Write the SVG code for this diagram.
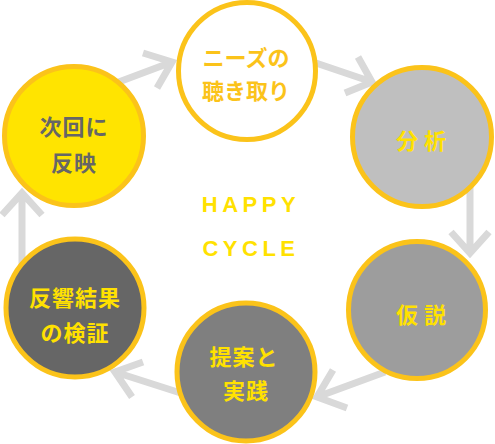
<svg xmlns="http://www.w3.org/2000/svg" width="495" height="444" viewBox="0 0 495 444">
<style>
.ar{fill:none;stroke:#d9d9d9;stroke-width:7;stroke-linejoin:miter;stroke-linecap:butt}
.c{stroke:#fbc31a;stroke-width:5}
.t{font-family:"Noto Sans CJK JP","Noto Sans CJK SC",sans-serif;font-weight:700;font-size:22px;text-anchor:middle}
.e{font-family:"Liberation Sans",Arial,sans-serif;font-weight:700;font-size:22px;fill:#ffe100;letter-spacing:4.5px;text-anchor:middle}
</style>
<rect width="495" height="444" fill="#ffffff"/>
<g id="connectors">
<path class="ar" d="M100,89 L172,62 M143,53 L172,62 L157,88"/>
<path class="ar" d="M310,61 L372,82 M358,57 L372,82 L345,93"/>
<path class="ar" d="M470,180 L470,253 M451,232 L470,253 L489,232"/>
<path class="ar" d="M385,372 L317,397 M333,370 L317,397 L347,408"/>
<path class="ar" d="M190,396 L115,372 M143,362 L115,372 L132,397"/>
<path class="ar" d="M22,268 L22,193 M2,215 L22,193 L42,215"/>
</g>
<g id="n-needs">
<circle class="c" cx="247" cy="71" r="68.5" fill="#ffffff"/>
<text class="t" x="246" y="66" fill="#fbc31a">ニーズの</text>
<text class="t" x="246" y="99" fill="#fbc31a">聴き取り</text>
</g>
<g id="n-analysis">
<circle class="c" cx="422" cy="137" r="69.5" fill="#bfbfbf"/>
<text class="t" x="424" y="149" fill="#ffe100" style="letter-spacing:6px">分析</text>
</g>
<g id="n-hypothesis">
<circle class="c" cx="417" cy="310" r="68.5" fill="#9d9d9d"/>
<text class="t" x="424" y="323" fill="#ffe100" style="letter-spacing:6px">仮説</text>
</g>
<g id="n-practice">
<circle class="c" cx="246" cy="372" r="69" fill="#7f7f7f"/>
<text class="t" x="244" y="365" fill="#ffe100" style="letter-spacing:1px">提案と</text>
<text class="t" x="246" y="399" fill="#ffe100" style="letter-spacing:1px">実践</text>
</g>
<g id="n-verify">
<circle class="c" cx="75" cy="308" r="69" fill="#666666"/>
<text class="t" x="75" y="306" fill="#ffe100" style="letter-spacing:1px">反響結果</text>
<text class="t" x="75" y="341" fill="#ffe100" style="letter-spacing:1px">の検証</text>
</g>
<g id="n-reflect">
<circle class="c" cx="74" cy="136" r="69.5" fill="#ffe400"/>
<text class="t" x="74" y="135" fill="#666666" style="letter-spacing:1px">次回に</text>
<text class="t" x="74" y="171" fill="#666666" style="letter-spacing:1px">反映</text>
</g>
<g id="title">
<text class="e" x="251" y="212">HAPPY</text>
<text class="e" x="251" y="256">CYCLE</text>
</g>
</svg>
